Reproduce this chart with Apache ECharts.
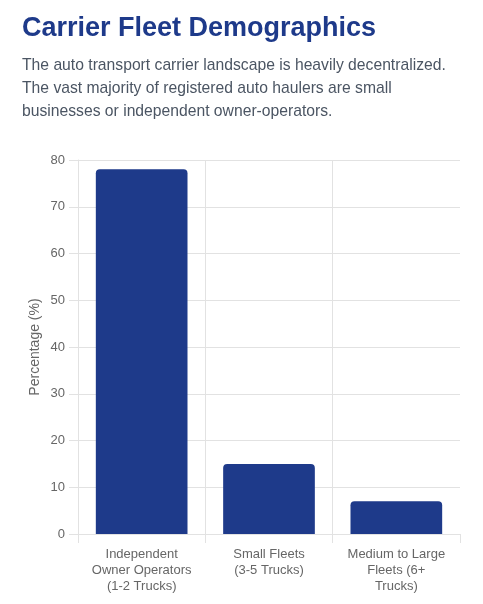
<!DOCTYPE html>
<html>
<head>
<meta charset="utf-8">
<script src="https://cdn.jsdelivr.net/npm/echarts@6/dist/echarts.min.js"></script>
<style>
  html, body { margin: 0; padding: 0; background: #fff; }
  #chart { width: 483px; height: 604px; }
</style>
</head>
<body>
<div id="chart"></div>
<script>
var categories = ['Independent\nOwner Operators\n(1-2 Trucks)', 'Small Fleets\n(3-5 Trucks)', 'Medium to Large\nFleets (6+\nTrucks)'];
var shares = [78, 15, 7];
var yMin = 0, yMax = 80, yStep = 10;

var font = '"Liberation Sans", Arial, Helvetica, sans-serif';
var gridColor = '#e2e2e2';

var myChart = echarts.init(document.getElementById('chart'));

var option = {
    animation: false,
    title: [
        {
            text: 'Carrier Fleet Demographics',
            left: 17, top: 10,
            textStyle: { color: '#1e3a8a', fontSize: 27, fontWeight: 'bold', fontFamily: font }
        },
        {
            text: 'The auto transport carrier landscape is heavily decentralized.\nThe vast majority of registered auto haulers are small\nbusinesses or independent owner-operators.',
            left: 17, top: 49,
            textStyle: { color: '#4b5563', fontSize: 15.7, fontWeight: 'normal', lineHeight: 23, fontFamily: font }
        }
    ],
    grid: { left: 78, right: 23, top: 160, bottom: 70 },
    xAxis: {
        type: 'category',
        data: categories,
        axisLine: { show: true, lineStyle: { color: gridColor } },
        axisTick: { show: true, interval: 0, length: 9, lineStyle: { color: gridColor } },
        axisLabel: { interval: 0, color: '#666', fontSize: 13, lineHeight: 16, margin: 12, fontFamily: font },
        splitLine: { show: true, interval: 0, showMaxLine: false, lineStyle: { color: gridColor } }
    },
    yAxis: {
        type: 'value',
        min: yMin, max: yMax, interval: yStep,
        name: 'Percentage (%)',
        nameLocation: 'middle',
        nameGap: 36,
        nameMoveOverlap: false,
        nameTextStyle: { color: '#666', fontSize: 14, fontFamily: font },
        axisLine: { show: true, lineStyle: { color: gridColor } },
        axisTick: { show: true, length: 9, lineStyle: { color: gridColor } },
        axisLabel: { color: '#666', fontSize: 13, margin: 13, fontFamily: font },
        splitLine: { show: true, lineStyle: { color: gridColor } }
    },
    series: [
        {
            type: 'bar',
            data: shares,
            barWidth: '72%',
            itemStyle: { color: '#1e3a8a', borderRadius: [4, 4, 0, 0] }
        }
    ]
};

myChart.setOption(option);
window.addEventListener('resize', function () {
    myChart.resize();
});
</script>
</body>
</html>
